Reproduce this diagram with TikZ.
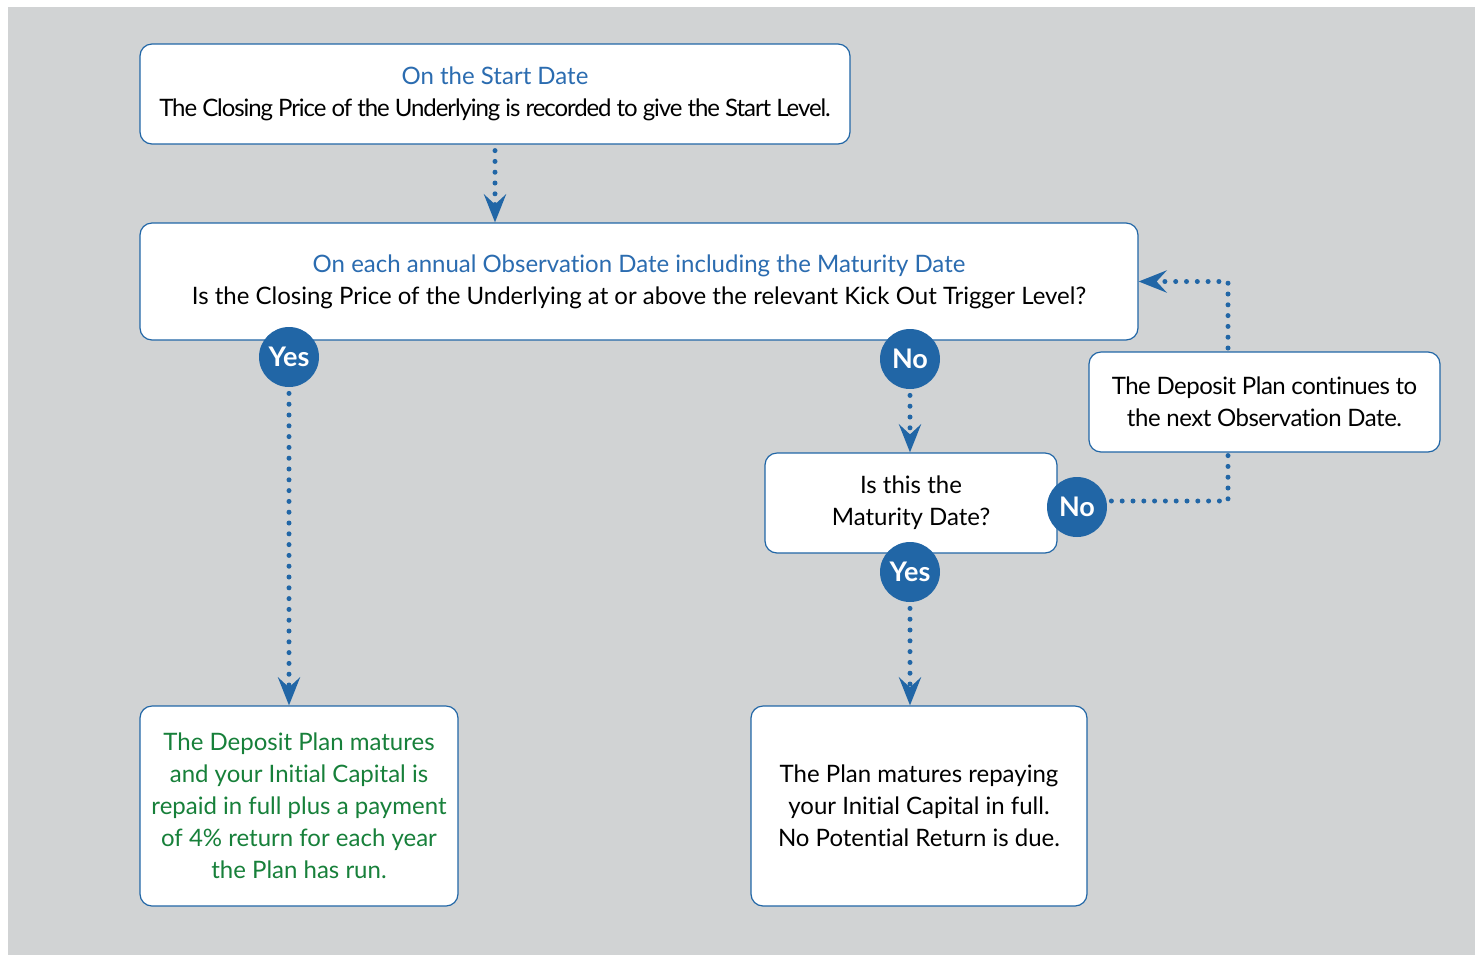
\documentclass[tikz,border=0pt]{standalone}
\usepackage{fontspec}
\setmainfont{Lato}[Ligatures={NoCommon}]
\usetikzlibrary{arrows.meta}
\definecolor{bgray}{HTML}{D1D3D4}
\definecolor{dblue}{HTML}{2166A6}
\definecolor{tblue}{HTML}{2B6CB0}
\definecolor{dgreen}{HTML}{17803A}
\begin{document}
\begin{tikzpicture}[x=0.5pt,y=-0.5pt,
  box/.style={draw=dblue, fill=white, rounded corners=6pt, line width=0.6pt, align=center, inner sep=0pt, font=\fontsize{12}{16}\selectfont},
  badge/.style={circle, fill=dblue, minimum size=30pt, inner sep=0pt, text=white, font=\fontsize{13.5}{15}\selectfont\bfseries},
  dotline/.style={draw=dblue, line width=2.5pt, line cap=round, dash pattern=on 0pt off 5.4pt},
  dotarrow/.style={dotline, -{Stealth[length=14pt,width=11pt,inset=5pt]}}]
\useasboundingbox (0,0) rectangle (1480,955);
\fill[white] (0,0) rectangle (1480,955);
\fill[bgray] (8,7) rectangle (1475,955);
% boxes
\node[box, minimum width=355pt, minimum height=50pt] (start) at (495,94)
  {{\color{tblue}On the Start Date}\\{\addfontfeature{LetterSpace=-4.5}The Closing Price of the Underlying is recorded to give the Start Level.}};
\node[box, minimum width=499pt, minimum height=58.5pt] (obs) at (639,281.5)
  {{\color{tblue}On each annual Observation Date including the Maturity Date}\\Is the Closing Price of the Underlying at or above the relevant Kick Out Trigger Level?};
\node[box, minimum width=159pt, minimum height=100pt, text=dgreen] (kick) at (299,806)
  {The Deposit Plan matures\\and your Initial Capital is\\repaid in full plus a payment\\of 4\% return for each year\\the Plan has run.};
\node[box, minimum width=146pt, minimum height=50pt] (mat) at (911,503)
  {Is this the\\Maturity Date?};
\node[box, minimum width=168pt, minimum height=100pt] (plan) at (919,806)
  {The Plan matures repaying\\your Initial Capital in full.\\No Potential Return is due.};
\node[box, minimum width=175.5pt, minimum height=50pt, font=\fontsize{12}{16}\selectfont\addfontfeature{LetterSpace=-2}] (cont) at (1264.5,402)
  {The Deposit Plan continues to\\the next Observation Date.};
% badges
\node[badge] (yes1) at (289,357) {Yes};
\node[badge] (no1) at (910,359) {No};
\node[badge] (no2) at (1077,507) {No};
\node[badge] (yes2) at (910,572) {Yes};
% helper coordinates
\coordinate (cb) at (1228,452);
\coordinate (ct) at (1228,352);
% connectors
\draw[dotarrow, shorten <=3pt] (start.south) -- (start.south |- obs.north);
\draw[dotarrow, shorten <=3pt] (yes1.south) -- (yes1.south |- kick.north);
\draw[dotarrow, shorten <=3pt] (no1.south) -- (no1.south |- mat.north);
\draw[dotarrow, shorten <=3pt] (yes2.south) -- (yes2.south |- plan.north);
\draw[dotline, shorten <=2pt] ([yshift=3pt]no2.east) -| (cb);
\draw[dotarrow, shorten <=2pt] (ct) |- (obs.east);
\end{tikzpicture}
\end{document}
